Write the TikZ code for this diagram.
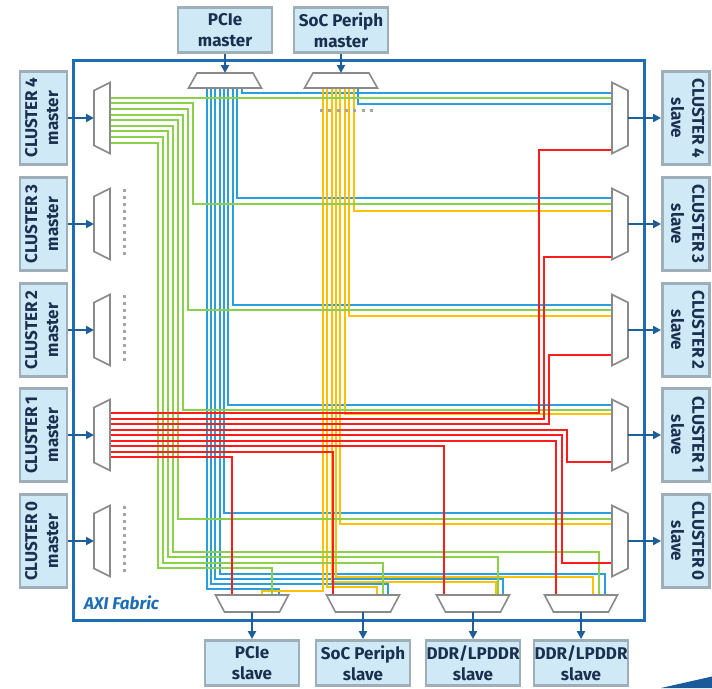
\documentclass[tikz,border=0pt]{standalone}
\usepackage{fontspec}
\setmainfont{Fira Sans}
\usetikzlibrary{arrows.meta}
\definecolor{boxfill}{HTML}{CFEAF6}
\definecolor{boxline}{HTML}{9EAFBA}
\definecolor{txt}{HTML}{1B3050}
\definecolor{fabric}{HTML}{1C6DB6}
\definecolor{arr}{HTML}{1F5F99}
\definecolor{wgreen}{HTML}{8CCF4A}
\definecolor{wblue}{HTML}{2A9FDE}
\definecolor{wyellow}{HTML}{FFC000}
\definecolor{wred}{HTML}{FF1C1C}
\definecolor{muxline}{HTML}{8A8A8A}
\definecolor{dotgray}{HTML}{A6A6A6}
\definecolor{wedge}{HTML}{1B5A9A}
\begin{document}
\begin{tikzpicture}[x=1pt,y=-1pt,
  ipbox/.style={draw=boxline, line width=2.8pt, fill=boxfill, text=txt,
    font=\fontsize{17}{21}\selectfont\bfseries, align=center, inner sep=0pt},
  hbox/.style={ipbox, minimum width=94pt, minimum height=45pt},
  vbox/.style={ipbox, minimum width=47pt, minimum height=93pt},
  mux/.style={draw=muxline, line width=1.6pt, fill=white, line join=miter},
  link/.style={draw=arr, line width=2pt, -{Triangle[length=8pt,width=8pt]}},
  wire/.style={line width=1.8pt},
  dots/.style={draw=dotgray, line width=3pt, dash pattern=on 3pt off 4pt},
  hdots/.style={draw=dotgray, line width=3pt, dash pattern=on 3pt off 5.3pt}]

\useasboundingbox (0,0) rectangle (712,688);
\fill[white] (0,0) rectangle (712,688);

% fabric outline
\draw[fabric, line width=3pt] (73.5,60.5) rectangle (644.5,620.5);
\node[font=\fontsize{17}{20}\selectfont\bfseries\itshape, text=fabric] (axi) at (121.5,603) {AXI Fabric};

% ---------- wires: PCIe master (blue) ----------
\draw[wire,wblue] (242,88) |- (612,93);
\foreach \x/\Y in {237/198, 233/305, 228/405, 224/513}
  \draw[wire,wblue] (\x,88) |- (612,\Y);
\foreach \x/\Y/\e in {220/574/605, 215/579/503, 211/584/388, 207/589/279}
  \draw[wire,wblue] (\x,88) |- (\e,\Y) -- (\e,595);
\draw[wire,wblue] (358,88) |- (612,104);

% ---------- wires: SoC Periph master (yellow) ----------
\foreach \x/\Y in {354/211, 349/316, 345/414, 340/524}
  \draw[wire,wyellow] (\x,88) |- (612,\Y);
\foreach \x/\Y/\e in {336/577/593, 332/582/496, 327/587/377, 323/591/262}
  \draw[wire,wyellow] (\x,88) |- (\e,\Y) -- (\e,595);

% ---------- wires: cluster 4 master (green) ----------
\draw[wire,wgreen] (110,98) -- (612,98);
\foreach \y/\x/\Y in {103/193/204, 109/188/310, 115/183/410, 120/178/519}
  \draw[wire,wgreen] (110,\y) -| (\x,\Y) -- (612,\Y);
\foreach \y/\x/\Y/\e in {126/173/552/599, 131/168/557/498, 137/163/563/383, 143/158/568/272}
  \draw[wire,wgreen] (110,\y) -| (\x,\Y) -| (\e,595);

% ---------- wires: cluster 1 master (red) ----------
\foreach \y/\x/\Y in {413/539/150, 419/544/257, 424/549/355, 430/567/462, 435/562/563}
  \draw[wire,wred] (110,\y) -| (\x,\Y) -- (612,\Y);
\foreach \y/\x in {441/556, 446/444, 452/333, 457/232}
  \draw[wire,wred] (110,\y) -| (\x,595);

% ---------- cluster masters and slaves ----------
\foreach \n/\yc in {4/118, 3/224, 2/330, 1/435, 0/541} {
  \node[vbox] (cm\n) at (43.5,\yc)
    {\rotatebox{90}{\begin{tabular}{@{}c@{}}CLUSTER\,\n\\master\end{tabular}}};
  \node[vbox] (cs\n) at (686,\yc)
    {\rotatebox{-90}{\begin{tabular}{@{}c@{}}CLUSTER\,\n\\slave\end{tabular}}};
  \draw[mux] (94,\yc-27.5) -- (110,\yc-35.5) -- (110,\yc+35.5) -- (94,\yc+27.5) -- cycle;
  \draw[mux] (612,\yc-35.5) -- (628,\yc-27.5) -- (628,\yc+27.5) -- (612,\yc+35.5) -- cycle;
  \coordinate (mi\n) at (94,\yc);
  \coordinate (so\n) at (628,\yc);
  \draw[link] (cm\n.east) -- (mi\n);
  \draw[link] (so\n) -- (cs\n.west);
}
\foreach \yc in {224, 330, 541}
  \draw[dots] (124,\yc-35.5) -- (124,\yc+31);

% ---------- top masters ----------
\node[hbox] (pcim) at (225,30) {PCIe\\master};
\node[hbox] (socm) at (341,30) {SoC Periph\\master};
\foreach \nm/\xc in {pcim/225, socm/341} {
  \draw[mux] (\xc-28,73) -- (\xc+28,73) -- (\xc+36.5,88) -- (\xc-36.5,88) -- cycle;
  \coordinate (\nm in) at (\xc,73);
  \draw[link] (\nm.south) -- (\nm in);
}
\draw[hdots] (320,110) -- (373,110);

% ---------- bottom slaves ----------
\node[hbox] (pcis) at (252,663) {PCIe\\slave};
\node[hbox] (socs) at (363,663) {SoC Periph\\slave};
\node[hbox] (ddra) at (473,663) {DDR/LPDDR\\slave};
\node[hbox] (ddrb) at (581,663) {DDR/LPDDR\\slave};
\foreach \nm/\xc in {pcis/252, socs/363, ddra/473, ddrb/581} {
  \draw[mux] (\xc-36.5,595) -- (\xc+36.5,595) -- (\xc+27.5,612) -- (\xc-27.5,612) -- cycle;
  \coordinate (\nm out) at (\xc,612);
  \draw[link] (\nm out) -- (\nm.north);
}

% corner wedge
\fill[wedge] (661,688) -- (712,676.5) -- (712,688) -- cycle;
\end{tikzpicture}
\end{document}
